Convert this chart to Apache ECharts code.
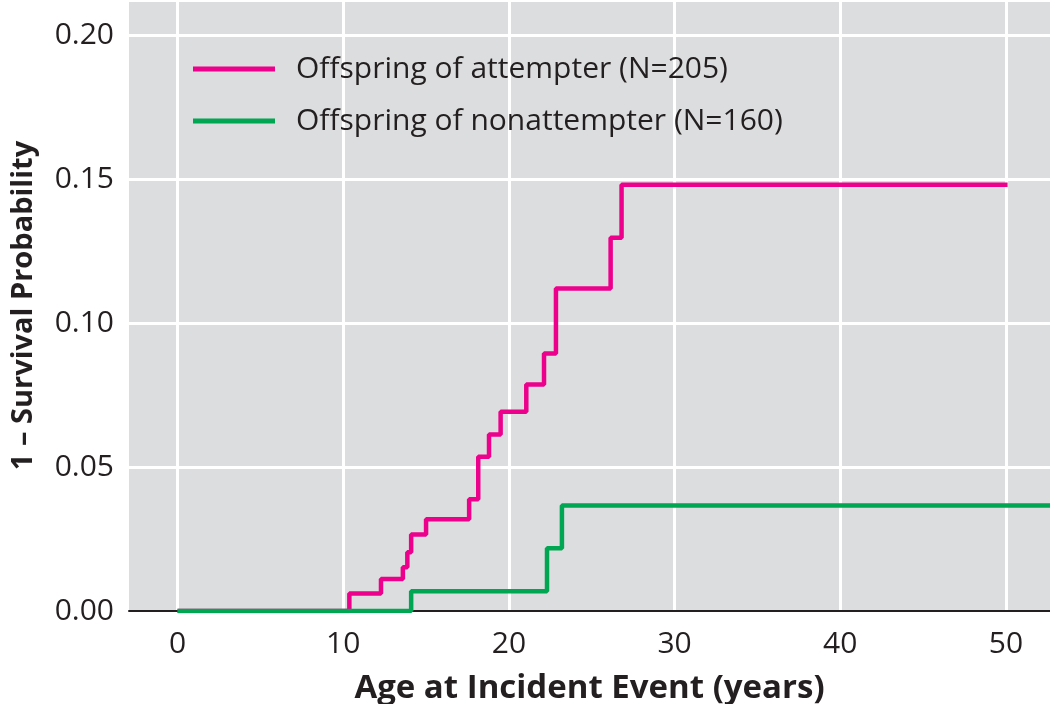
<!DOCTYPE html>
<html>
<head>
<meta charset="utf-8">
<script src="https://cdn.jsdelivr.net/npm/echarts@6/dist/echarts.min.js"></script>
<style>
html,body{margin:0;padding:0;background:#fff;}
#chart{width:1050px;height:704px;}
</style>
</head>
<body>
<div id="chart"></div>
<script>
// Data
var seriesNames = ['Offspring of attempter (N=205)', 'Offspring of nonattempter (N=160)'];
var attempterAge = [0, 10.37, 12.28, 13.6, 13.87, 14.1, 15.0, 17.6, 18.15, 18.8, 19.5, 21.05, 22.12, 22.84, 26.14, 26.8, 50.1];
var attempterVal = [0, 0.0061, 0.0111, 0.0152, 0.0204, 0.0266, 0.0319, 0.0388, 0.0536, 0.0613, 0.0692, 0.0787, 0.0894, 0.1120, 0.1296, 0.1480, 0.1480];
var nonattAge = [0, 14.1, 22.3, 23.2, 53];
var nonattVal = [0, 0.0069, 0.0218, 0.0366, 0.0366];
var xTicks = [0, 10, 20, 30, 40, 50];
var yTicks = [0.00, 0.05, 0.10, 0.15, 0.20];

function pairs(a, b) { return a.map(function (x, i) { return [x, b[i]]; }); }

var FONT = '"Open Sans", "Noto Sans", sans-serif';
var chart = echarts.init(document.getElementById('chart'), null, {renderer: 'canvas'});
chart.setOption({
  animation: false,
  backgroundColor: '#ffffff',
  grid: {left: 129, right: 0, top: 0, bottom: 93, containLabel: false, outerBoundsMode: 'none',
         show: true, backgroundColor: '#dcdddf', borderWidth: 0},
  legend: {
    orient: 'vertical', left: 193, top: 54, itemGap: 22, padding: 0,
    itemWidth: 82, itemHeight: 5, icon: 'rect',
    textStyle: {fontFamily: FONT, fontSize: 30, color: '#231f20', padding: [0, 0, 0, 16]},
    data: seriesNames
  },
  xAxis: {
    type: 'value', min: -2.93, max: 52.66,
    name: 'Age at Incident Event (years)', nameLocation: 'middle', nameGap: 61,
    nameTextStyle: {fontFamily: FONT, fontSize: 33, fontWeight: 'bold', color: '#231f20'},
    axisLine: {show: true, onZero: false, lineStyle: {color: '#231f20', width: 2}},
    axisTick: {show: false, customValues: xTicks},
    axisLabel: {fontFamily: FONT, fontSize: 30, color: '#231f20', margin: 18, customValues: xTicks},
    splitLine: {show: true, lineStyle: {color: '#ffffff', width: 3}}
  },
  yAxis: {
    type: 'value', min: 0, max: 0.2122, interval: 0.05,
    name: '1 \u2013 Survival Probability', nameLocation: 'middle', nameGap: 91,
    nameTextStyle: {fontFamily: FONT, fontSize: 29, fontWeight: 'bold', color: '#231f20'},
    axisLine: {show: false}, axisTick: {show: false},
    axisLabel: {
      fontFamily: FONT, fontSize: 30, color: '#231f20', margin: 15,
      formatter: function (v) {
        var r = Math.round(v * 10000) / 10000;
        return yTicks.indexOf(r) >= 0 ? r.toFixed(2) : '';
      }
    },
    splitLine: {show: true, lineStyle: {color: '#ffffff', width: 3}}
  },
  series: [
    {name: seriesNames[0], type: 'line', step: 'end', showSymbol: false, symbol: 'none',
     data: pairs(attempterAge, attempterVal), color: '#ec008c',
     lineStyle: {color: '#ec008c', width: 4.5}, z: 3},
    {name: seriesNames[1], type: 'line', step: 'end', showSymbol: false, symbol: 'none',
     data: pairs(nonattAge, nonattVal), color: '#00a651',
     lineStyle: {color: '#00a651', width: 4.5}, z: 4}
  ]
});
</script>
</body>
</html>
